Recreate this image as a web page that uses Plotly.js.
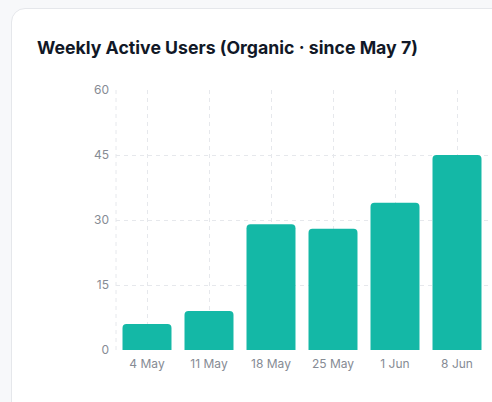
<!DOCTYPE html>
<html>
<head>
<meta charset="utf-8">
<script src="https://cdn.plot.ly/plotly-3.0.1.min.js"></script>
<style>
  html, body { margin: 0; padding: 0; width: 492px; height: 402px; overflow: hidden; background: #f7f8fa; font-family: Inter, sans-serif; }
  #card { position: absolute; left: 11px; top: 8px; width: 620px; height: 520px; background: #ffffff; border: 1px solid #e5e7eb; border-radius: 14px; box-sizing: border-box; }
  #chart { position: absolute; left: 0; top: 0; width: 600px; height: 402px; }
</style>
</head>
<body>
<div id="card"></div>
<div id="chart"></div>
<script>
const categories = ["4 May", "11 May", "18 May", "25 May", "1 Jun", "8 Jun"];
const activeUsers = [6, 9, 29, 28, 34, 45];
const yTicks = [0, 15, 30, 45, 60];
const chartTitle = "Weekly Active Users (Organic · since May 7)";

const W = 600, H = 402;
const gridColor = "#e6e8ec";
const tickColor = "#868b94";

Plotly.newPlot("chart", [{
  type: "bar",
  x: categories,
  y: activeUsers,
  marker: { color: "#14b8a6", cornerradius: 4, line: { width: 0 } },
  hoverinfo: "x+y"
}], {
  width: W, height: H,
  paper_bgcolor: "rgba(0,0,0,0)",
  plot_bgcolor: "rgba(0,0,0,0)",
  margin: { l: 116, r: W - 116 - 434, t: 90, b: 52, pad: 0 },
  bargap: 0.21,
  showlegend: false,
  font: { family: "Inter, sans-serif", color: tickColor, size: 12 },
  title: {
    text: chartTitle,
    xref: "container", yref: "container",
    x: 37 / W, xanchor: "left",
    y: 1 - 47.5 / H, yanchor: "middle",
    font: { family: "Inter, sans-serif", size: 17.7, color: "#111827", weight: 700 }
  },
  xaxis: {
    type: "category",
    range: [-0.5, 6.5],
    showgrid: true, gridcolor: gridColor, griddash: "4px,4px", gridwidth: 1,
    showline: false, zeroline: false, ticks: "",
    ticklabelstandoff: 5,
    tickfont: { size: 12, color: tickColor },
    fixedrange: true
  },
  yaxis: {
    range: [0, 60],
    tickvals: yTicks,
    ticktext: yTicks.map(String),
    showgrid: true, gridcolor: gridColor, griddash: "4px,4px", gridwidth: 1,
    showline: false, zeroline: false, ticks: "",
    ticklabelstandoff: 6,
    tickfont: { size: 12, color: tickColor },
    fixedrange: true
  },
  shapes: [{
    type: "line", xref: "paper", yref: "paper",
    x0: 0, x1: 0, y0: 0, y1: 1,
    line: { color: gridColor, width: 1, dash: "4px,4px" },
    layer: "below"
  }]
}, { displayModeBar: false, staticPlot: false });
</script>
</body>
</html>
